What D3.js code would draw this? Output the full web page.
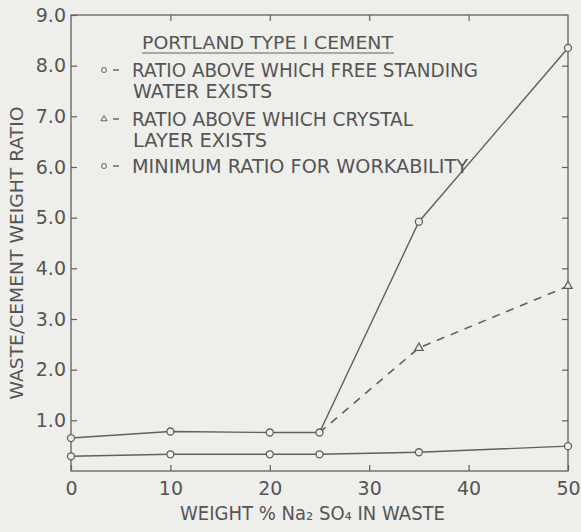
<!DOCTYPE html>
<html>
<head>
<meta charset="utf-8">
<title>Waste/cement ratio</title>
<script src="https://cdn.jsdelivr.net/npm/d3@7"></script>
<style>
  body { margin: 0; padding: 0; background: #eeeeeb; }
  svg { display: block; }
  text { font-family: "DejaVu Sans", sans-serif; fill: #555555; }
</style>
</head>
<body>
<div id="chart"></div>
<script>
// data
var weightPct = [0, 10, 20, 25, 35, 50];
var freeWater = [0.65, 0.78, 0.76, 0.76, 4.92, 8.35];
var crystalPct = [25, 35, 50];
var crystal = [0.76, 2.43, 3.65];
var minWork = [0.29, 0.33, 0.33, 0.33, 0.37, 0.49];
var xTicks = [0, 10, 20, 30, 40, 50];
var yTicks = [1, 2, 3, 4, 5, 6, 7, 8, 9];
var xTitle = "WEIGHT % Na\u2082 SO\u2084 IN WASTE";
var yTitle = "WASTE/CEMENT WEIGHT RATIO";
var legendTitle = "PORTLAND TYPE I CEMENT";
var legendLines = [
  ["circle", "RATIO ABOVE WHICH FREE STANDING", "WATER EXISTS"],
  ["triangle", "RATIO ABOVE WHICH CRYSTAL", "LAYER EXISTS"],
  ["circle", "MINIMUM RATIO FOR WORKABILITY", null]
];

var W = 581, H = 532;
var ink = "#606060";

var svg = d3.select("#chart").append("svg")
  .attr("width", W).attr("height", H);

svg.append("rect").attr("width", W).attr("height", H).attr("fill", "#eeeeeb");

var x = d3.scaleLinear().domain([0, 50]).range([71, 568]);
var y = d3.scaleLinear().domain([0, 9]).range([471, 15]);

// frame
svg.append("rect")
  .attr("x", x(0)).attr("y", y(9))
  .attr("width", x(50) - x(0)).attr("height", y(0) - y(9))
  .attr("fill", "none").attr("stroke", ink).attr("stroke-width", 1.3);

function styleAxis(g) {
  g.select(".domain").remove();
  g.selectAll(".tick line").attr("stroke", ink).attr("stroke-width", 1.2);
  g.selectAll(".tick text").attr("fill", "#555555").attr("font-size", 19)
    .attr("font-family", "DejaVu Sans, sans-serif");
}

// ticks point inward on all four sides
svg.append("g").attr("transform", "translate(0," + y(0) + ")")
  .call(d3.axisBottom(x).tickValues(xTicks).tickSizeInner(-6).tickSizeOuter(0).tickPadding(11))
  .call(styleAxis);

svg.append("g").attr("transform", "translate(" + x(0) + ",0)")
  .call(d3.axisLeft(y).tickValues(yTicks).tickFormat(d3.format(".1f")).tickSizeInner(-6).tickSizeOuter(0).tickPadding(5))
  .call(styleAxis);

svg.append("g").attr("transform", "translate(0," + y(9) + ")")
  .call(d3.axisTop(x).tickValues([10, 20, 30, 40]).tickFormat("").tickSizeInner(-6).tickSizeOuter(0))
  .call(styleAxis);

svg.append("g").attr("transform", "translate(" + x(50) + ",0)")
  .call(d3.axisRight(y).tickValues(yTicks.slice(0, 8)).tickFormat("").tickSizeInner(-6).tickSizeOuter(0))
  .call(styleAxis);

// axis titles
svg.append("text")
  .attr("x", 180).attr("y", 520)
  .attr("font-size", 19)
  .attr("textLength", 265).attr("lengthAdjust", "spacingAndGlyphs")
  .text(xTitle);

svg.append("text")
  .attr("transform", "translate(23,253) rotate(-90)")
  .attr("text-anchor", "middle").attr("font-size", 18)
  .attr("textLength", 293).attr("lengthAdjust", "spacingAndGlyphs")
  .text(yTitle);

// series lines
var line = d3.line().x(function (d) { return x(d[0]); }).y(function (d) { return y(d[1]); });

function pairs(xs, ys) { return xs.map(function (v, i) { return [v, ys[i]]; }); }

var free = pairs(weightPct, freeWater);
var minw = pairs(weightPct, minWork);
var crys = pairs(crystalPct, crystal);

svg.append("path").datum(free).attr("d", line)
  .attr("fill", "none").attr("stroke", ink).attr("stroke-width", 1.4);
svg.append("path").datum(minw).attr("d", line)
  .attr("fill", "none").attr("stroke", ink).attr("stroke-width", 1.4);
svg.append("path").datum(crys).attr("d", line)
  .attr("fill", "none").attr("stroke", ink).attr("stroke-width", 1.6)
  .attr("stroke-dasharray", "8,7");

function circles(data) {
  svg.append("g").selectAll("circle").data(data).enter().append("circle")
    .attr("cx", function (d) { return x(d[0]); })
    .attr("cy", function (d) { return y(d[1]); })
    .attr("r", 3.5).attr("fill", "#eeeeeb").attr("stroke", ink).attr("stroke-width", 1.3);
}
circles(free);
circles(minw);

var tri = d3.symbol().type(d3.symbolTriangle).size(30);
svg.append("g").selectAll("path").data(crys.slice(1)).enter().append("path")
  .attr("d", tri)
  .attr("transform", function (d) { return "translate(" + x(d[0]) + "," + y(d[1]) + ")"; })
  .attr("fill", "#eeeeeb").attr("stroke", ink).attr("stroke-width", 1.3);

// legend
var lg = svg.append("g");
lg.append("text").attr("x", 142).attr("y", 49).attr("font-size", 18)
  .attr("textLength", 251).attr("lengthAdjust", "spacingAndGlyphs")
  .text(legendTitle);
lg.append("line").attr("x1", 142).attr("x2", 394).attr("y1", 53).attr("y2", 53)
  .attr("stroke", ink).attr("stroke-width", 1.2);

var rowY = [77, 126, 173];
var firstLen = [346, 281, 336];
var secondLen = [139, 134, 0];
legendLines.forEach(function (row, i) {
  var cy = rowY[i] - 7;
  if (row[0] === "circle") {
    lg.append("circle").attr("cx", 104).attr("cy", cy).attr("r", 2.5)
      .attr("fill", "none").attr("stroke", ink).attr("stroke-width", 1);
  } else {
    lg.append("path").attr("d", d3.symbol().type(d3.symbolTriangle).size(16))
      .attr("transform", "translate(104," + cy + ")")
      .attr("fill", "none").attr("stroke", ink).attr("stroke-width", 1);
  }
  lg.append("line").attr("x1", 113).attr("x2", 119).attr("y1", cy).attr("y2", cy)
    .attr("stroke", ink).attr("stroke-width", 1.4);
  lg.append("text").attr("x", 132).attr("y", rowY[i]).attr("font-size", 19)
    .attr("textLength", firstLen[i]).attr("lengthAdjust", "spacingAndGlyphs")
    .text(row[1]);
  if (row[2]) {
    lg.append("text").attr("x", 133).attr("y", rowY[i] + 21).attr("font-size", 19)
      .attr("textLength", secondLen[i]).attr("lengthAdjust", "spacingAndGlyphs")
      .text(row[2]);
  }
});
</script>
</body>
</html>
